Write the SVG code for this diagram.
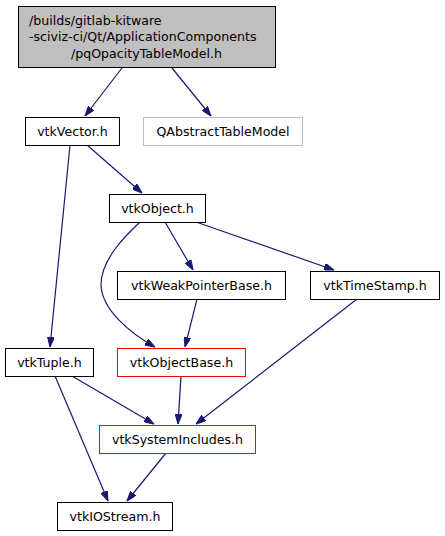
<svg xmlns="http://www.w3.org/2000/svg" width="445" height="536" viewBox="0 0 445 536">
<style>
.n rect{fill:#fff;stroke-width:1}
.n text{font-family:"DejaVu Sans",sans-serif;font-size:12.6px;fill:#000;text-anchor:middle}
.root rect{fill:#bfbfbf}
.e path{fill:none;stroke:#191970;stroke-width:1.2}
</style>
<defs>
<marker id="ah" viewBox="0 0 10 7" refX="10" refY="3.5" markerWidth="10" markerHeight="7" markerUnits="userSpaceOnUse" orient="auto">
<path d="M0,0 L10,3.5 L0,7 Z" fill="#191970" stroke="#191970"/>
</marker>
</defs>
<g id="edges" class="e">
<path d="M122,68 L85,116" marker-end="url(#ah)"/>
<path d="M172,68 L211,116" marker-end="url(#ah)"/>
<path d="M87,145 L142,193" marker-end="url(#ah)"/>
<path d="M70,145 L50,347" marker-end="url(#ah)"/>
<path d="M140,222 C124,237 101,260 101,285 C102,310 130,333 155,347" marker-end="url(#ah)"/>
<path d="M165,222 L193,270" marker-end="url(#ah)"/>
<path d="M196,222 L334,270" marker-end="url(#ah)"/>
<path d="M197,299 L185,347" marker-end="url(#ah)"/>
<path d="M357,299 L196,424" marker-end="url(#ah)"/>
<path d="M181,376 L178,424" marker-end="url(#ah)"/>
<path d="M72,376 L154,424" marker-end="url(#ah)"/>
<path d="M55,376 L108,501" marker-end="url(#ah)"/>
<path d="M166,453 L127,501" marker-end="url(#ah)"/>
</g>
<g id="node_root" class="n root">
<rect x="18.5" y="6.5" width="257" height="61" stroke="#000"/>
<text x="29" y="24.5" style="text-anchor:start">/builds/gitlab-kitware</text>
<text x="29" y="41" style="text-anchor:start">-sciviz-ci/Qt/ApplicationComponents</text>
<text x="146.5" y="57.5">/pqOpacityTableModel.h</text>
</g>
<g id="node_vtkVector" class="n">
<rect x="25.5" y="117.5" width="94" height="28" stroke="#000"/>
<text x="72.5" y="136">vtkVector.h</text>
</g>
<g id="node_QAbstractTableModel" class="n">
<rect x="143.5" y="117.5" width="159" height="28" stroke="#bfbfbf"/>
<text x="223" y="136">QAbstractTableModel</text>
</g>
<g id="node_vtkObject" class="n">
<rect x="109.5" y="194.5" width="96" height="28" stroke="#000"/>
<text x="157.5" y="213">vtkObject.h</text>
</g>
<g id="node_vtkWeakPointerBase" class="n">
<rect x="117.5" y="271.5" width="168" height="28" stroke="#000"/>
<text x="201.5" y="290">vtkWeakPointerBase.h</text>
</g>
<g id="node_vtkTimeStamp" class="n">
<rect x="310.5" y="271.5" width="129" height="28" stroke="#000"/>
<text x="375" y="290">vtkTimeStamp.h</text>
</g>
<g id="node_vtkTuple" class="n">
<rect x="5.5" y="348.5" width="88" height="28" stroke="#000"/>
<text x="49.5" y="367">vtkTuple.h</text>
</g>
<g id="node_vtkObjectBase" class="n">
<rect x="117.5" y="348.5" width="128" height="28" stroke="red"/>
<text x="181.5" y="367">vtkObjectBase.h</text>
</g>
<g id="node_vtkSystemIncludes" class="n">
<rect x="99.5" y="425.5" width="156" height="28" stroke="red" stroke-width="1.3"/>
<text x="177.5" y="444">vtkSystemIncludes.h</text>
</g>
<g id="node_vtkIOStream" class="n">
<rect x="57.5" y="502.5" width="115" height="28" stroke="#000"/>
<text x="115" y="521">vtkIOStream.h</text>
</g>
</svg>
